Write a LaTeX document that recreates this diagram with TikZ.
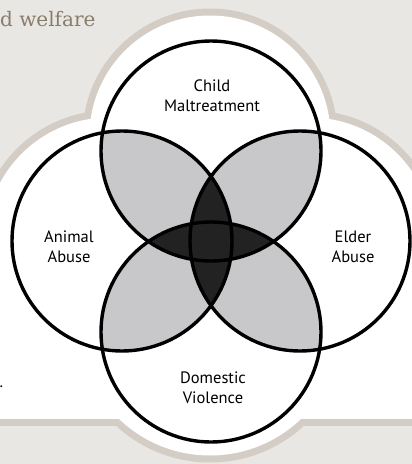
\documentclass[tikz,border=0pt]{standalone}
\usepackage{fontspec}
\setmainfont{PT Sans}
\newfontfamily\headfont{DejaVu Serif}
\usepackage{tikz}

\definecolor{paper}{HTML}{E9E7E3}
\definecolor{rim}{HTML}{D4CDC5}
\definecolor{pair}{HTML}{C8C8CA}
\definecolor{core}{HTML}{222222}
\definecolor{headcol}{HTML}{8A7C6C}

\begin{document}
\begin{tikzpicture}[x=1pt,y=-1pt,
  ring/.style={draw=black,line width=3.4pt},
  tag/.style={align=center,font=\fontsize{16.5}{20}\selectfont,inner sep=0pt},
  cloud/.style={draw=rim,line width=14pt}]

\useasboundingbox (0,0) rectangle (412,464);
\fill[paper] (0,0) rectangle (412,464);

% white backdrop with its rim
\foreach \cx/\cy/\r in {210/136/120.5,109/241/123.5,310/241/123.5,210/324/131.5}
  \draw[cloud] (\cx,\cy) circle (\r pt);
\draw[cloud] (-30,240) rectangle (442,418.5);
\foreach \cx/\cy/\r in {210/136/120.5,109/241/123.5,310/241/123.5,210/324/131.5}
  \fill[white] (\cx,\cy) circle (\r pt);
\fill[white] (-30,240) rectangle (442,418.5);
\clip (0,0) rectangle (412,464);

\coordinate (child)    at (211,151);
\coordinate (animal)   at (122,241);
\coordinate (elder)    at (300,241);
\coordinate (domestic) at (211,332);

% overlaps of neighbours
\begin{scope}
  \clip (child) circle (110pt);
  \fill[pair] (animal) circle (110pt) (elder) circle (110pt);
\end{scope}
\begin{scope}
  \clip (domestic) circle (110pt);
  \fill[pair] (animal) circle (110pt) (elder) circle (110pt);
\end{scope}
% overlaps of opposites
\begin{scope}
  \clip (child) circle (110pt);
  \fill[core] (domestic) circle (110pt);
\end{scope}
\begin{scope}
  \clip (animal) circle (110pt);
  \fill[core] (elder) circle (110pt);
\end{scope}

\foreach \c in {child,animal,elder,domestic}
  \draw[ring] (\c) circle (110pt);

\node[tag] (childtag)    at (212,96)  {Child\\Maltreatment};
\node[tag] (animaltag)   at (69,247)  {Animal\\Abuse};
\node[tag] (eldertag)    at (353,247) {Elder\\Abuse};
\node[tag] (domestictag) at (213,388) {Domestic\\Violence};

\node[anchor=base west,inner sep=0pt,text=headcol,font=\headfont\fontsize{20}{24}\selectfont]
  (head) at (0,26) {d welfare};
\node[anchor=base west,inner sep=0pt,font=\fontsize{16.5}{20}\selectfont]
  (stop) at (-0.5,387) {.};

\end{tikzpicture}
\end{document}
